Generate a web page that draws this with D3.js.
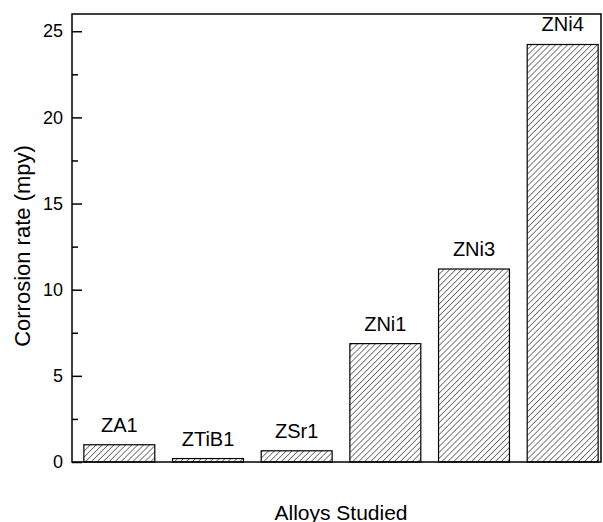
<!DOCTYPE html>
<html>
  <head>
    <script src="https://cdnjs.cloudflare.com/ajax/libs/d3/7.8.5/d3.min.js"></script>
    <style>
      body {
        margin: 0;
        background: #fff;
        font-family: "Liberation Sans", Arial, Helvetica, sans-serif;
      }
      .axis path { display: none; }
      .axis line { stroke: #000; stroke-width: 1.5px; }
      .axis text { font-size: 18px; fill: #000; font-family: "Liberation Sans", Arial, sans-serif; }
      .bar { stroke: #000; stroke-width: 1.2px; }
    </style>
  </head>
  <body>
    <svg id="chart" width="603" height="522"></svg>
    <script>
      const alloys = ["ZA1", "ZTiB1", "ZSr1", "ZNi1", "ZNi3", "ZNi4"];
      const corrosionRate = [1.0, 0.2, 0.65, 6.87, 11.2, 24.23];
      const majorTicks = [0, 5, 10, 15, 20, 25];
      const minorTicks = [2.5, 7.5, 12.5, 17.5, 22.5];

      const svg = d3.select("#chart");
      const plot = { left: 72, right: 601, top: 14, bottom: 462 };

      const y = d3.scaleLinear().domain([0, 26]).range([plot.bottom, plot.top]);
      const x = d3
        .scaleBand()
        .domain(alloys)
        .range([75, 607])
        .paddingInner(0.2)
        .paddingOuter(0.1);

      // hatch pattern
      svg
        .append("defs")
        .append("pattern")
        .attr("id", "hatch")
        .attr("patternUnits", "userSpaceOnUse")
        .attr("width", 4.2)
        .attr("height", 4.2)
        .attr("patternTransform", "rotate(45)")
        .append("line")
        .attr("x1", 0)
        .attr("y1", 0)
        .attr("x2", 0)
        .attr("y2", 4.2)
        .attr("stroke", "#000")
        .attr("stroke-width", 1);

      // bars
      svg
        .selectAll(".bar")
        .data(alloys)
        .enter()
        .append("rect")
        .attr("class", "bar")
        .attr("x", (d) => x(d))
        .attr("width", x.bandwidth())
        .attr("y", (d, i) => y(corrosionRate[i]))
        .attr("height", (d, i) => y(0) - y(corrosionRate[i]))
        .attr("fill", "url(#hatch)");

      // bar labels
      svg
        .selectAll(".label")
        .data(alloys)
        .enter()
        .append("text")
        .attr("x", (d) => x(d) + x.bandwidth() / 2)
        .attr("y", (d, i) => y(corrosionRate[i]) - 13)
        .attr("text-anchor", "middle")
        .attr("font-size", 20)
        .text((d) => d);

      // frame
      svg
        .append("rect")
        .attr("x", plot.left)
        .attr("y", plot.top)
        .attr("width", plot.right - plot.left)
        .attr("height", plot.bottom - plot.top)
        .attr("fill", "none")
        .attr("stroke", "#000")
        .attr("stroke-width", 1.5);

      // left axis, ticks pointing inward
      svg
        .append("g")
        .attr("class", "axis")
        .attr("transform", `translate(${plot.left},0)`)
        .call(d3.axisLeft(y).tickValues(majorTicks).tickSize(-10).tickPadding(9));

      svg
        .append("g")
        .attr("class", "axis")
        .attr("transform", `translate(${plot.left},0)`)
        .call(d3.axisLeft(y).tickValues(minorTicks).tickSize(-6).tickFormat(""));

      // axis titles
      svg
        .append("text")
        .attr("transform", `translate(30,246) rotate(-90)`)
        .attr("text-anchor", "middle")
        .attr("font-size", 22)
        .text("Corrosion rate (mpy)");

      svg
        .append("text")
        .attr("x", 341)
        .attr("y", 520)
        .attr("text-anchor", "middle")
        .attr("font-size", 21)
        .text("Alloys Studied");
    </script>
  </body>
</html>
